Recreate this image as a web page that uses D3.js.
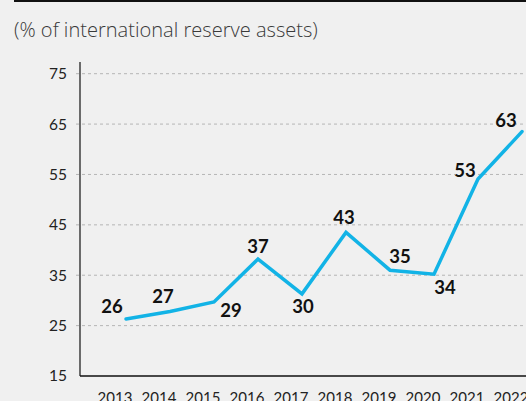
<!DOCTYPE html>
<html>
<head>
<meta charset="utf-8">
<script src="https://cdn.jsdelivr.net/npm/d3@7"></script>
<style>
  body { margin: 0; background: #f0f0f0; }
  svg { display: block; font-family: Lato, "Open Sans", sans-serif; }
</style>
</head>
<body>
<div id="chart"></div>
<script>
let years = ['2013', '2014', '2015', '2016', '2017', '2018', '2019', '2020', '2021', '2022']
let shares = [26.3, 27.8, 29.7, 38.2, 31.3, 43.5, 36.0, 35.2, 54.1, 63.5]
let shareLabels = ['26', '27', '29', '37', '30', '43', '35', '34', '53', '63']
let yTicks = [15, 25, 35, 45, 55, 65, 75]
// where each value label sits relative to its point
let labelOffsets = [[-14, -6], [-7, -9], [17, 15], [0, -6], [1, 19], [-2, -8], [10, -7], [11, 20], [-13, -2], [-16, -5]]

let width = 526, height = 401
let plotLeft = 80, plotTop = 73.7, plotBottom = 376

let svg = d3.select('#chart')
  .append('svg')
  .attr('width', width)
  .attr('height', height)

svg.append('rect')
  .attr('width', width)
  .attr('height', height)
  .attr('fill', '#f0f0f0')

svg.append('rect')
  .attr('x', 14)
  .attr('y', 0)
  .attr('width', width - 14)
  .attr('height', 2)
  .attr('fill', '#111')

let subtitle = svg.append('text')
  .attr('x', 14)
  .attr('y', 37)
  .attr('font-family', '"Open Sans", Lato, sans-serif')
  .attr('font-size', 19)
  .attr('font-weight', 300)
  .attr('fill', '#3a3a3a')
  .text('(% of international reserve assets)')
// scale font so the subtitle spans about as wide as the original
let subW = subtitle.node().getComputedTextLength()
if (subW > 0) subtitle.attr('font-size', 19 * 304 / subW)

let x = d3.scalePoint()
  .domain(years)
  .range([126, 522])

let y = d3.scaleLinear()
  .domain([15, 75])
  .range([plotBottom, plotTop])

// y axis with dashed grid
let yAxis = svg.append('g')
  .attr('transform', 'translate(' + plotLeft + ',0)')
  .call(d3.axisLeft(y).tickValues(yTicks).tickSize(0).tickPadding(13))
yAxis.select('.domain').remove()
yAxis.selectAll('text')
  .attr('font-size', 15.5)
  .attr('fill', '#222')
  .attr('font-family', 'Lato, "Open Sans", sans-serif')

svg.append('g')
  .selectAll('line')
  .data(yTicks.filter(function(d) { return d > 15 }))
  .enter()
  .append('line')
  .attr('x1', plotLeft - 4)
  .attr('x2', width)
  .attr('y1', function(d) { return y(d) })
  .attr('y2', function(d) { return y(d) })
  .attr('stroke', '#b5b5b5')
  .attr('stroke-width', 1)
  .attr('stroke-dasharray', '3,3')

svg.append('line')
  .attr('x1', plotLeft)
  .attr('x2', plotLeft)
  .attr('y1', 62)
  .attr('y2', plotBottom)
  .attr('stroke', '#111')
  .attr('stroke-width', 1.2)

svg.append('line')
  .attr('x1', plotLeft)
  .attr('x2', width)
  .attr('y1', plotBottom)
  .attr('y2', plotBottom)
  .attr('stroke', '#111')
  .attr('stroke-width', 1.5)

// year labels sit a little left of their points
svg.append('g')
  .selectAll('text')
  .data(years)
  .enter()
  .append('text')
  .attr('x', function(d) { return x(d) - 11 })
  .attr('y', 403)
  .attr('text-anchor', 'middle')
  .attr('font-size', 15)
  .attr('fill', '#222')
  .text(function(d) { return d })

let line = d3.line()
  .x(function(d, i) { return x(years[i]) })
  .y(function(d) { return y(d) })

svg.append('path')
  .datum(shares)
  .attr('d', line)
  .attr('fill', 'none')
  .attr('stroke', '#12b3e6')
  .attr('stroke-width', 3.5)
  .attr('stroke-linejoin', 'miter')
  .attr('stroke-linecap', 'round')

svg.append('g')
  .selectAll('text')
  .data(shares)
  .enter()
  .append('text')
  .attr('x', function(d, i) { return x(years[i]) + labelOffsets[i][0] })
  .attr('y', function(d, i) { return y(d) + labelOffsets[i][1] })
  .attr('text-anchor', 'middle')
  .attr('font-size', 18.5)
  .attr('font-weight', 700)
  .attr('fill', '#111')
  .text(function(d, i) { return shareLabels[i] })
</script>
</body>
</html>
